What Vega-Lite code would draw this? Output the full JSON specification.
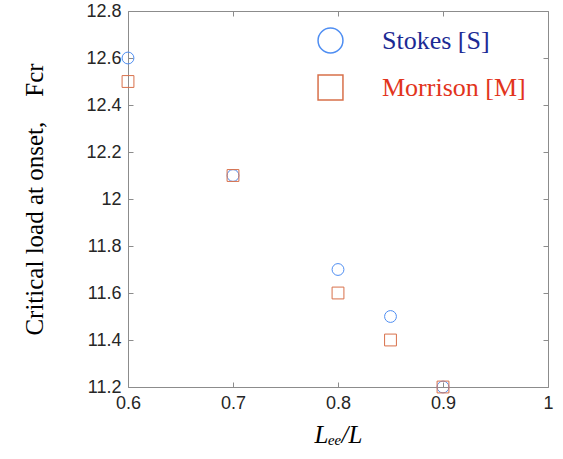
{
  "$schema": "https://vega.github.io/schema/vega-lite/v6.json",
  "width": 420,
  "height": 376,
  "autosize": {"type": "none"},
  "padding": {"left": 128, "top": 11, "right": 15, "bottom": 72},
  "background": "white",
  "config": {
    "view": {"stroke": "#8c8c8c", "strokeWidth": 1},
    "axis": {
      "grid": false,
      "domain": false,
      "tickColor": "#8c8c8c",
      "tickSize": -5,
      "labelFlush": false,
      "labelFont": "Liberation Sans",
      "labelFontSize": 18,
      "labelColor": "#262626",
      "titleFont": "Liberation Serif",
      "titleFontWeight": "normal",
      "titleColor": "#000000",
      "titleFontSize": 25
    },
    "legend": {
      "symbolSize": 620,
      "symbolStrokeWidth": 1.5,
      "labelFont": "Liberation Serif",
      "labelFontSize": 26,
      "labelOffset": 38,
      "rowPadding": 16,
      "padding": 0
    }
  },
  "data": {
    "values": [
      {"x": 0.6, "y": 12.6, "series": "Stokes [S]"},
      {"x": 0.7, "y": 12.1, "series": "Stokes [S]"},
      {"x": 0.8, "y": 11.7, "series": "Stokes [S]"},
      {"x": 0.85, "y": 11.5, "series": "Stokes [S]"},
      {"x": 0.9, "y": 11.2, "series": "Stokes [S]"},
      {"x": 0.6, "y": 12.5, "series": "Morrison [M]"},
      {"x": 0.7, "y": 12.1, "series": "Morrison [M]"},
      {"x": 0.8, "y": 11.6, "series": "Morrison [M]"},
      {"x": 0.85, "y": 11.4, "series": "Morrison [M]"},
      {"x": 0.9, "y": 11.2, "series": "Morrison [M]"}
    ]
  },
  "resolve": {
    "scale": {"x": "independent", "y": "independent"},
    "axis": {"x": "independent", "y": "independent"}
  },
  "layer": [
    {
      "mark": {"type": "point", "filled": false, "strokeWidth": 1, "opacity": 1, "clip": false, "size": 140},
      "encoding": {
        "x": {
          "field": "x", "type": "quantitative",
          "scale": {"domain": [0.6, 1], "nice": false, "zero": false},
          "axis": {"values": [0.6, 0.7, 0.8, 0.9, 1.0], "format": "~g", "labelPadding": 12, "title": "Lₑₑ/L", "titleFontStyle": "italic", "titlePadding": 10}
        },
        "y": {
          "field": "y", "type": "quantitative",
          "scale": {"domain": [11.2, 12.8], "nice": false, "zero": false},
          "axis": {"values": [11.2, 11.4, 11.6, 11.8, 12, 12.2, 12.4, 12.6, 12.8], "format": ".3~g", "labelPadding": 12, "title": "Critical load at onset,\u00a0\u00a0\u00a0\u00a0Fcr", "titlePadding": 38}
        },
        "shape": {
          "field": "series", "type": "nominal",
          "scale": {"domain": ["Stokes [S]", "Morrison [M]"], "range": ["circle", "square"]},
          "legend": {
            "title": null, "orient": "none", "legendX": 189, "legendY": 16,
            "labelColor": {"expr": "datum.label === 'Stokes [S]' ? '#1c2a94' : '#e2341c'"}
          }
        },
        "color": {
          "field": "series", "type": "nominal",
          "scale": {"domain": ["Stokes [S]", "Morrison [M]"], "range": ["#4f8ef2", "#d8704a"]},
          "legend": {
            "title": null, "orient": "none", "legendX": 189, "legendY": 16,
            "labelColor": {"expr": "datum.label === 'Stokes [S]' ? '#1c2a94' : '#e2341c'"}
          }
        }
      }
    },
    {
      "mark": {"type": "point", "opacity": 0},
      "encoding": {
        "x": {
          "field": "x", "type": "quantitative",
          "scale": {"domain": [0.6, 1], "nice": false, "zero": false},
          "axis": {"orient": "top", "values": [0.6, 0.7, 0.8, 0.9, 1.0], "labels": false, "title": null}
        },
        "y": {
          "field": "y", "type": "quantitative",
          "scale": {"domain": [11.2, 12.8], "nice": false, "zero": false},
          "axis": {"orient": "right", "values": [11.2, 11.4, 11.6, 11.8, 12, 12.2, 12.4, 12.6, 12.8], "labels": false, "title": null}
        }
      }
    }
  ]
}
